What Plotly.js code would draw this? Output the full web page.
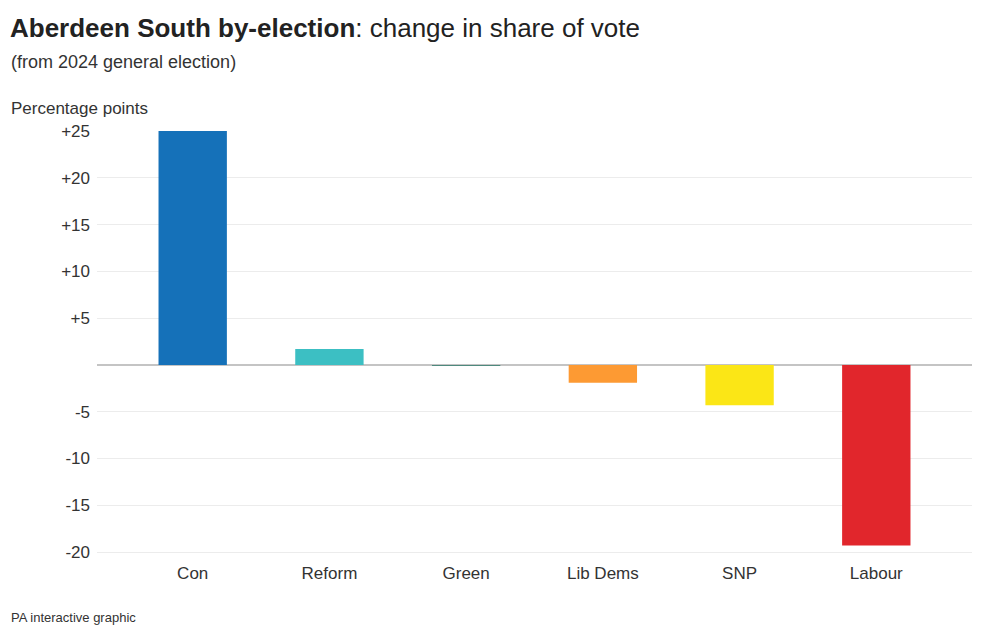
<!DOCTYPE html>
<html>
<head>
<meta charset="utf-8">
<script src="https://cdn.plot.ly/plotly-3.0.1.min.js"></script>
<style>
  html, body { margin: 0; padding: 0; background: #fff; }
  #chart { width: 1000px; height: 637px; }
</style>
</head>
<body>
<div id="chart"></div>
<script>
// Data
const parties = ["Con", "Reform", "Green", "Lib Dems", "SNP", "Labour"];
const changes = [25.0, 1.7, -0.1, -1.9, -4.3, -19.3];
const partyColors = ["#1571b9", "#3cbfc3", "#4f8a7e", "#fd9a33", "#fbe616", "#e1262c"];
const tickValues = [-20, -15, -10, -5, 5, 10, 15, 20, 25];
const tickLabels = ["-20", "-15", "-10", "-5", "+5", "+10", "+15", "+20", "+25"];

const FONT = "Liberation Sans, Arial, sans-serif";
const W = 1000, H = 637;
const M = { l: 97, r: 28, t: 131, b: 83 };
const pw = W - M.l - M.r, ph = H - M.t - M.b;
const px = x => (x - M.l) / pw;
const py = y => (H - M.b - y) / ph;

const trace = {
  type: "bar",
  x: parties,
  y: changes,
  marker: { color: partyColors, line: { width: 0 } },
  width: 0.5,
  hoverinfo: "x+y"
};

const layout = {
  width: W,
  height: H,
  margin: M,
  paper_bgcolor: "#ffffff",
  plot_bgcolor: "#ffffff",
  font: { family: FONT, color: "#333333", size: 17 },
  showlegend: false,
  title: {
    text: "<b>Aberdeen South by-election</b>: change in share of vote",
    font: { family: FONT, size: 26, color: "#222222" },
    xref: "container", yref: "container",
    x: 0.01, xanchor: "left",
    y: 1 - 28 / H, yanchor: "middle"
  },
  xaxis: {
    type: "category",
    range: [-0.7, 5.7],
    showgrid: false,
    zeroline: false,
    showline: false,
    ticks: "",
    ticklabelstandoff: 7,
    tickfont: { family: FONT, size: 17, color: "#333333" },
    fixedrange: true
  },
  yaxis: {
    range: [-20.2, 25],
    tickmode: "array",
    tickvals: tickValues,
    ticktext: tickLabels,
    showgrid: true,
    gridcolor: "#ececec",
    gridwidth: 1,
    zeroline: true,
    zerolinecolor: "#c4c4c4",
    zerolinewidth: 1.5,
    showline: false,
    ticks: "",
    ticklabelstandoff: 6,
    tickfont: { family: FONT, size: 17, color: "#333333" },
    fixedrange: true
  },
  annotations: [
    {
      text: "(from 2024 general election)",
      xref: "paper", yref: "paper",
      x: px(9), y: py(62), xanchor: "left", yanchor: "middle",
      showarrow: false,
      font: { family: FONT, size: 18, color: "#333333" }
    },
    {
      text: "Percentage points",
      xref: "paper", yref: "paper",
      x: px(9), y: py(108), xanchor: "left", yanchor: "middle",
      showarrow: false,
      font: { family: FONT, size: 17, color: "#333333" }
    },
    {
      text: "PA interactive graphic",
      xref: "paper", yref: "paper",
      x: px(9), y: py(617), xanchor: "left", yanchor: "middle",
      showarrow: false,
      font: { family: FONT, size: 13, color: "#333333" }
    }
  ]
};

Plotly.newPlot("chart", [trace], layout, { displayModeBar: false, staticPlot: true });
</script>
</body>
</html>
